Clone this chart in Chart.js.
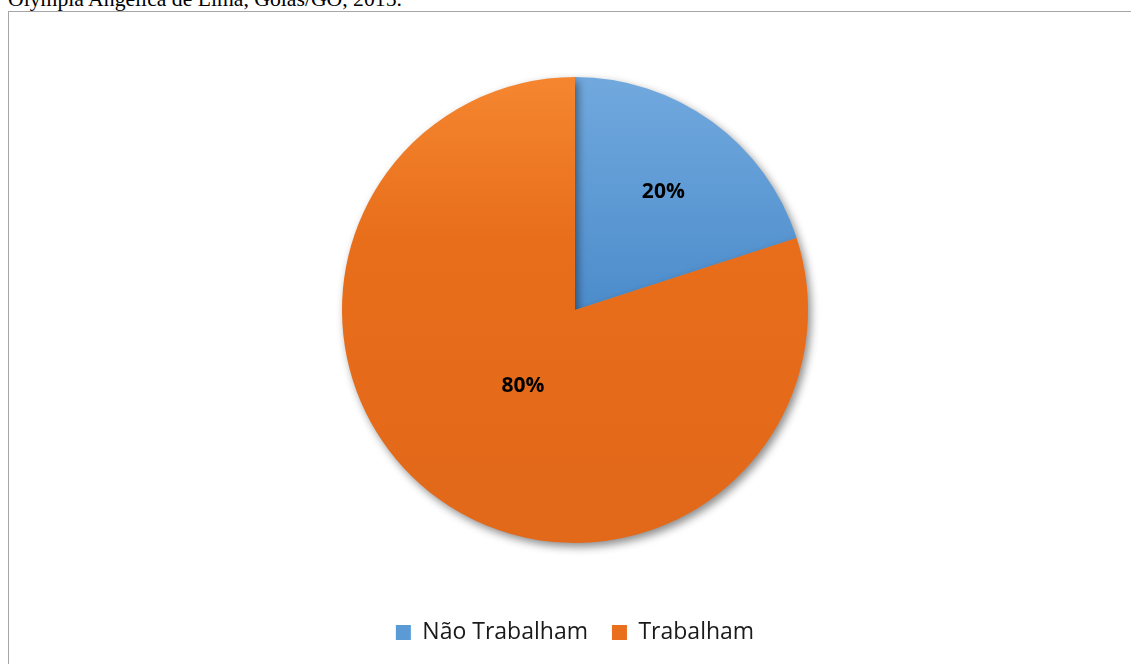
<!DOCTYPE html>
<html>
<head>
<meta charset="utf-8">
<script src="https://cdn.jsdelivr.net/npm/chart.js@4.4.1/dist/chart.umd.min.js"></script>
<style>
  html, body { margin: 0; padding: 0; background: #fff; overflow: hidden; }
  body { width: 1131px; height: 664px; position: relative; }
  #caption {
    position: absolute; left: 8px; top: -13px;
    font-family: "Liberation Serif", "Times New Roman", serif;
    font-size: 21.7px; color: #000; white-space: nowrap;
  }
  #box {
    position: absolute; left: 8px; top: 11px; width: 1140px; height: 670px;
    border: 1px solid #a6a6a6; box-sizing: border-box;
  }
  #wrap { position: absolute; left: 0; top: 0; width: 1132px; height: 652px; }
</style>
</head>
<body>
<div id="caption">Olympia Angélica de Lima, Goiás/GO, 2015.</div>
<div id="box">
  <div id="wrap"><canvas id="pie"></canvas></div>
</div>
<script>
// dados
const categories = ['Não Trabalham', 'Trabalham'];
const values = [20, 80];
const percentLabels = ['20%', '80%'];

const gradStops = [
    [[0, '#71a9de'], [0.5, '#4c8ccb'], [1, '#4585c5']],
    [[0, '#f5862f'], [0.35, '#e86e1b'], [1, '#e2681a']]
];
const legendColors = ['#5b9bd5', '#ea6f1c'];
const labelDist = [0.645, 0.38]; // posição do rótulo (fração do raio)
const pieRadius = 233;

function sliceFill(context) {
    const chart = context.chart;
    const area = chart.chartArea;
    if (!area || !isFinite(area.top) || !isFinite(area.bottom)) return legendColors[context.dataIndex];
    const cy = (area.top + area.bottom) / 2;
    const g = chart.ctx.createLinearGradient(0, cy - pieRadius, 0, cy + pieRadius);
    gradStops[context.dataIndex].forEach(s => g.addColorStop(s[0], s[1]));
    return g;
}

const shadowPlugin = {
    id: 'shadow',
    beforeDatasetDraw(chart) {
        const ctx = chart.ctx;
        ctx.save();
        ctx.shadowColor = 'rgba(0,0,0,0.45)';
        ctx.shadowBlur = 8;
        ctx.shadowOffsetX = 3;
        ctx.shadowOffsetY = 4;
    },
    afterDatasetDraw(chart) {
        chart.ctx.restore();
    }
};

const labelPlugin = {
    id: 'sliceLabels',
    afterDatasetsDraw(chart) {
        const ctx = chart.ctx;
        const meta = chart.getDatasetMeta(0);
        ctx.save();
        ctx.font = 'bold 21px "Open Sans", sans-serif';
        ctx.fillStyle = '#000';
        ctx.textAlign = 'center';
        ctx.textBaseline = 'middle';
        meta.data.forEach((arc, i) => {
            const mid = (arc.startAngle + arc.endAngle) / 2;
            const d = arc.outerRadius * labelDist[i];
            ctx.fillText(percentLabels[i], arc.x + Math.cos(mid) * d, arc.y + Math.sin(mid) * d + 4);
        });
        ctx.restore();
    }
};

new Chart(document.getElementById('pie'), {
    type: 'pie',
    data: {
        labels: categories,
        datasets: [{
            data: values,
            backgroundColor: sliceFill,
            borderWidth: 0,
            radius: pieRadius
        }]
    },
    options: {
        responsive: true,
        maintainAspectRatio: false,
        animation: false,
        layout: { padding: { top: 11, bottom: 10, left: 0, right: 0 } },
        plugins: {
            tooltip: { enabled: false },
            legend: {
                position: 'bottom',
                labels: {
                    boxWidth: 15,
                    boxHeight: 15,
                    padding: 24,
                    color: '#1a1a1a',
                    font: { family: '"Open Sans", sans-serif', size: 23 },
                    generateLabels(chart) {
                        return categories.map((c, i) => ({
                            text: c,
                            fillStyle: legendColors[i],
                            strokeStyle: legendColors[i],
                            lineWidth: 0,
                            index: i,
                            fontColor: '#1a1a1a'
                        }));
                    }
                }
            }
        }
    },
    plugins: [shadowPlugin, labelPlugin]
});
</script>
</body>
</html>
